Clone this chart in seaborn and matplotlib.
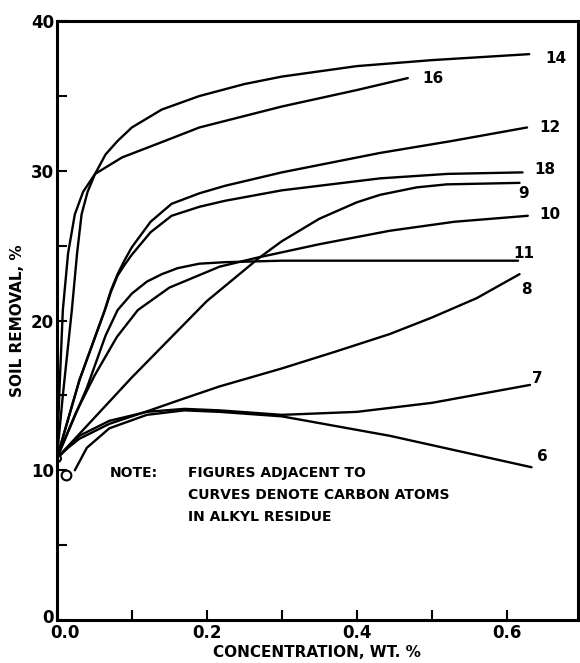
import matplotlib
matplotlib.use("Agg")
import matplotlib.pyplot as plt
import matplotlib.transforms as mtransforms
import seaborn as sns

# curves: concentration (wt %) vs soil removal (%)
x_14 = [0, 0.008, 0.02, 0.027, 0.033, 0.041, 0.051, 0.065, 0.081, 0.1, 0.14, 0.19, 0.25, 0.3, 0.4, 0.5, 0.63]
y_14 = [10.8, 15.0, 20.7, 24.5, 27.1, 28.6, 29.8, 31.1, 32.0, 32.9, 34.1, 35.0, 35.8, 36.3, 37.0, 37.4, 37.8]
x_16 = [0, 0.004, 0.008, 0.015, 0.024, 0.035, 0.051, 0.087, 0.144, 0.19, 0.3, 0.4, 0.468]
y_16 = [10.8, 16.0, 20.7, 24.5, 27.1, 28.6, 29.8, 30.9, 32.0, 32.9, 34.3, 35.4, 36.2]
x_12 = [0, 0.03, 0.064, 0.072, 0.081, 0.09, 0.1, 0.125, 0.153, 0.19, 0.224, 0.3, 0.431, 0.527, 0.627]
y_12 = [10.8, 16.0, 20.7, 22.0, 23.1, 24.0, 24.9, 26.6, 27.8, 28.5, 29.0, 29.9, 31.2, 32.0, 32.9]
x_18 = [0, 0.03, 0.064, 0.072, 0.081, 0.09, 0.1, 0.125, 0.153, 0.19, 0.224, 0.3, 0.431, 0.521, 0.621]
y_18 = [10.8, 16.0, 20.7, 21.9, 23.0, 23.7, 24.4, 25.9, 27.0, 27.6, 28.0, 28.7, 29.5, 29.8, 29.9]
x_9 = [0, 0.1, 0.2, 0.27, 0.3, 0.35, 0.4, 0.431, 0.48, 0.52, 0.617]
y_9 = [10.8, 16.2, 21.3, 24.2, 25.3, 26.8, 27.9, 28.4, 28.9, 29.1, 29.2]
x_10 = [0, 0.025, 0.05, 0.08, 0.108, 0.15, 0.217, 0.267, 0.35, 0.444, 0.53, 0.628]
y_10 = [10.8, 13.8, 16.3, 18.9, 20.7, 22.2, 23.6, 24.2, 25.1, 26.0, 26.6, 27.0]
x_11 = [0, 0.04, 0.065, 0.081, 0.1, 0.12, 0.14, 0.161, 0.19, 0.224, 0.3, 0.615]
y_11 = [10.8, 15.5, 19.0, 20.7, 21.8, 22.6, 23.1, 23.5, 23.8, 23.9, 24.0, 24.0]
x_8 = [0, 0.015, 0.03, 0.07, 0.124, 0.17, 0.217, 0.3, 0.37, 0.444, 0.5, 0.56, 0.617]
y_8 = [10.8, 11.5, 12.1, 13.1, 14.0, 14.8, 15.6, 16.8, 17.9, 19.1, 20.2, 21.5, 23.1]
x_7 = [0, 0.03, 0.07, 0.12, 0.17, 0.217, 0.3, 0.4, 0.5, 0.631]
y_7 = [10.8, 12.3, 13.3, 13.9, 14.1, 14.0, 13.7, 13.9, 14.5, 15.7]
x_6 = [0.024, 0.04, 0.07, 0.12, 0.17, 0.217, 0.3, 0.444, 0.633]
y_6 = [10.0, 11.5, 12.8, 13.7, 14.0, 13.9, 13.6, 12.3, 10.2]

curve_names = ["14", "16", "12", "18", "9", "10", "11", "8", "7", "6"]
curve_x = [x_14, x_16, x_12, x_18, x_9, x_10, x_11, x_8, x_7, x_6]
curve_y = [y_14, y_16, y_12, y_18, y_9, y_10, y_11, y_8, y_7, y_6]
label_x = [0.651, 0.488, 0.643, 0.637, 0.615, 0.644, 0.609, 0.619, 0.633, 0.64]
label_y = [37.5, 36.2, 32.9, 30.1, 28.5, 27.1, 24.5, 22.1, 16.1, 10.9]

note_lines = ["FIGURES ADJACENT TO", "CURVES DENOTE CARBON ATOMS", "IN ALKYL RESIDUE"]
note_y = [9.8, 8.33, 6.87]

sns.set_style("ticks")
plt.rcParams["font.family"] = ["DejaVu Sans"]
plt.rcParams["font.weight"] = "bold"
plt.rcParams["text.color"] = "black"
plt.rcParams["axes.labelcolor"] = "black"
plt.rcParams["xtick.color"] = "black"
plt.rcParams["ytick.color"] = "black"
plt.rcParams["axes.edgecolor"] = "black"

fig = plt.figure(figsize=(5.8, 6.63), dpi=100)
ax = fig.add_axes([0.098, 0.065, 0.8986, 0.903])

for xs, ys in zip(curve_x, curve_y):
    sns.lineplot(x=xs, y=ys, ax=ax, color="black", lw=1.7, sort=False, estimator=None)

for name, lx, ly in zip(curve_names, label_x, label_y):
    ax.text(lx, ly, name, fontsize=11, fontweight="bold", ha="left", va="center")

# start markers
ax.plot([0], [10.8], "o", mfc="white", mec="black", ms=5, mew=1.5)
ax.plot([0.012], [9.7], "o", mfc="white", mec="black", ms=7, mew=1.5)

ax.text(0.071, note_y[0], "NOTE:", fontsize=10, fontweight="bold", va="center")
for line, ny in zip(note_lines, note_y):
    ax.text(0.175, ny, line, fontsize=10, fontweight="bold", va="center")

ax.set_xlim(0, 0.695)
ax.set_ylim(0, 40)
ax.set_xticks([0, 0.1, 0.2, 0.3, 0.4, 0.5, 0.6])
ax.set_xticklabels(["0.0", "", "0.2", "", "0.4", "", "0.6"])
ax.set_yticks([0, 5, 10, 15, 20, 25, 30, 35, 40])
ax.set_yticklabels(["0", "", "10", "", "20", "", "30", "", "40"])
ax.tick_params(direction="in", length=7, width=1.5, labelsize=12, pad=3)
ax.tick_params(axis="y", pad=2)

# the first x label sits a little to the right of the corner
first = ax.get_xticklabels()[0]
first.set_transform(first.get_transform() + mtransforms.ScaledTranslation(8 / 100, 0, fig.dpi_scale_trans))
yfirst = ax.get_yticklabels()[0]
yfirst.set_transform(yfirst.get_transform() + mtransforms.ScaledTranslation(0, 4 / 100, fig.dpi_scale_trans))

for sp in ax.spines.values():
    sp.set_linewidth(2.2)
    sp.set_visible(True)
ax.set_xlabel("CONCENTRATION, WT. %", fontsize=11, fontweight="bold", labelpad=2)
ax.set_ylabel("SOIL REMOVAL, %", fontsize=11, fontweight="bold", labelpad=4)

fig.savefig("out.png", dpi=100)
